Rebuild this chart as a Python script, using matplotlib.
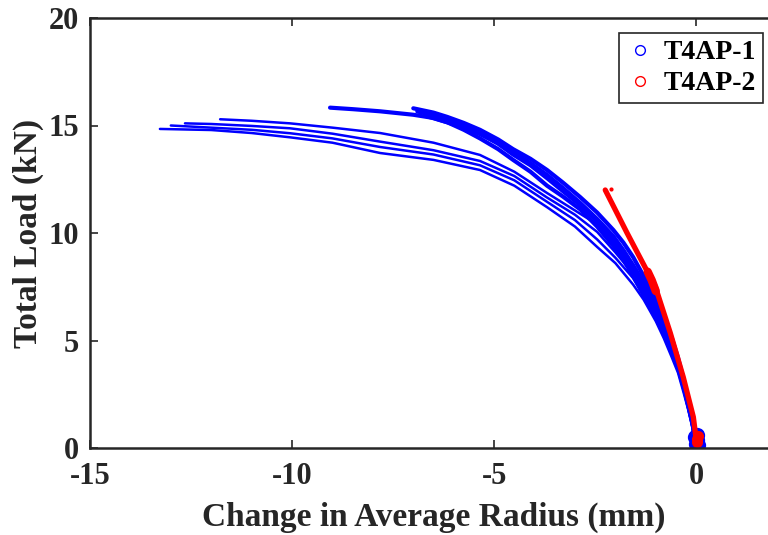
import matplotlib
matplotlib.use("Agg")
import matplotlib.pyplot as plt
from matplotlib.lines import Line2D

plt.rcParams['font.family'] = ['Liberation Serif', 'DejaVu Serif']
plt.rcParams['font.weight'] = 'bold'
plt.rcParams['axes.unicode_minus'] = False

# ---- data ----
# T4AP-1: several load/unload branches (upper group)
u1_x = [-9.06, -8.5, -7.82, -7.0, -6.5, -6.16, -5.75, -5.35, -4.9, -4.53, -4.1, -3.69, -3.3, -2.87, -2.45, -2.05, -1.8, -1.56, -1.3, -1.0, -0.8, -0.6, -0.45, -0.3, -0.2, -0.1, 0.0]
u1_y = [15.83, 15.76, 15.66, 15.5, 15.35, 15.15, 14.9, 14.6, 14.2, 13.75, 13.25, 12.7, 12.1, 11.4, 10.65, 9.85, 9.2, 8.5, 7.7, 6.6, 5.8, 4.9, 4.0, 3.0, 2.2, 1.3, 0.2]
u2_x = [-7.0, -6.5, -6.16, -5.75, -5.35, -4.9, -4.53, -4.1, -3.69, -3.3, -2.87, -2.45, -2.05, -1.8, -1.56, -1.3, -1.0, -0.8, -0.6, -0.45, -0.3, -0.2, -0.1, 0.0]
u2_y = [15.8, 15.6, 15.4, 15.12, 14.8, 14.35, 13.9, 13.45, 12.93, 12.35, 11.67, 10.95, 10.14, 9.55, 8.88, 8.0, 6.9, 6.0, 5.1, 4.2, 3.1, 2.3, 1.4, 0.3]
u3_x = [-6.9, -6.5, -6.16, -5.75, -5.35, -4.9, -4.53, -4.1, -3.69, -3.3, -2.87, -2.45, -2.05, -1.8, -1.56, -1.3, -1.0, -0.8, -0.6, -0.45, -0.3, -0.2, -0.1, 0.0]
u3_y = [15.65, 15.48, 15.3, 15.0, 14.62, 14.15, 13.65, 13.15, 12.55, 11.95, 11.3, 10.55, 9.7, 9.05, 8.3, 7.45, 6.35, 5.55, 4.75, 3.9, 2.9, 2.1, 1.25, 0.2]
u4_x = [-6.7, -6.16, -5.75, -5.35, -4.9, -4.53, -4.1, -3.69, -3.3, -2.87, -2.45, -2.05, -1.8, -1.56, -1.3, -1.0, -0.8, -0.6, -0.45, -0.3, -0.2, -0.1, 0.0]
u4_y = [15.45, 15.15, 14.8, 14.4, 13.9, 13.4, 12.85, 12.2, 11.7, 11.1, 10.3, 9.4, 8.75, 8.0, 7.1, 6.1, 5.3, 4.6, 3.75, 2.8, 2.0, 1.2, 0.2]
# lower group
l1_x = [-13.27, -12.0, -11.0, -10.05, -9.0, -7.82, -6.5, -5.35, -4.5, -3.69, -3.0, -2.45, -2.0, -1.56, -1.3, -1.0, -0.8, -0.6, -0.45, -0.3, -0.2, -0.1, 0.0]
l1_y = [14.84, 14.79, 14.65, 14.45, 14.2, 13.72, 13.4, 12.93, 12.2, 11.2, 10.3, 9.35, 8.6, 7.6, 6.9, 5.9, 5.1, 4.2, 3.5, 2.5, 1.8, 1.0, 0.1]
l2_x = [-13.0, -12.0, -11.0, -10.05, -9.0, -7.82, -6.5, -5.35, -4.5, -3.69, -3.0, -2.45, -2.0, -1.56, -1.3, -1.0, -0.8, -0.6, -0.45, -0.3, -0.2, -0.1, 0.0]
l2_y = [15.0, 14.9, 14.8, 14.64, 14.4, 14.0, 13.65, 13.15, 12.45, 11.45, 10.6, 9.7, 8.85, 7.9, 7.1, 6.1, 5.3, 4.35, 3.6, 2.6, 1.85, 1.05, 0.1]
l3_x = [-12.65, -12.0, -11.0, -10.05, -9.0, -7.82, -6.5, -5.35, -4.5, -3.69, -3.0, -2.45, -2.0, -1.56, -1.3, -1.0, -0.8, -0.6, -0.45, -0.3, -0.2, -0.1, 0.0]
l3_y = [15.1, 15.07, 14.98, 14.87, 14.62, 14.25, 13.85, 13.35, 12.65, 11.65, 10.85, 10.05, 9.1, 8.1, 7.3, 6.3, 5.45, 4.5, 3.7, 2.7, 1.9, 1.1, 0.1]
l4_x = [-11.78, -11.0, -10.05, -9.0, -7.82, -6.5, -5.35, -4.5, -3.69, -3.0, -2.45, -2.0, -1.56, -1.3, -1.0, -0.8, -0.6, -0.45, -0.3, -0.2, -0.1, 0.0]
l4_y = [15.29, 15.22, 15.1, 14.9, 14.65, 14.2, 13.63, 12.85, 11.86, 11.05, 10.4, 9.4, 8.4, 7.5, 6.5, 5.6, 4.65, 3.85, 2.8, 2.0, 1.15, 0.1]
blob1_x = [0.0, 0.03, -0.02, 0.05, 0.02]
blob1_y = [0.2, 0.35, 0.5, 0.15, 0.6]

# T4AP-2
red_x = [-2.25, -1.71, -1.19, -1.01, -0.64, -0.32, -0.07, -0.02, 0.0]
red_y = [12.0, 10.0, 8.14, 7.5, 5.35, 3.3, 1.44, 0.7, 0.3]
red_thick_x = [-1.2, -1.1, -1.0]
red_thick_y = [8.2, 7.8, 7.3]
red_pt_x = [-2.1]
red_pt_y = [12.05]
blob2_x = [0.02, 0.04, 0.03]
blob2_y = [0.4, 0.55, 0.3]

x_ticks = [-15, -10, -5, 0]
y_ticks = [0, 5, 10, 15, 20]

fig = plt.figure(figsize=(7.68, 5.35), dpi=100)
ax = fig.add_axes([90/768, 1-448/535, (777-90)/768, (448-18)/535])

upper = [(u1_x, u1_y), (u2_x, u2_y), (u3_x, u3_y), (u4_x, u4_y)]
lower = [(l1_x, l1_y), (l2_x, l2_y), (l3_x, l3_y), (l4_x, l4_y)]
for cx, cy in upper:
    ax.plot(cx, cy, color='blue', lw=3.0, solid_capstyle='round', solid_joinstyle='round')
for cx, cy in lower:
    ax.plot(cx, cy, color='blue', lw=1.8, solid_capstyle='round', solid_joinstyle='round')
ax.plot(blob1_x, blob1_y, 'o', color='blue', ms=11, mew=0)

ax.plot(red_x, red_y, color='red', lw=3.8, solid_capstyle='round', solid_joinstyle='round')
ax.plot(red_thick_x, red_thick_y, color='red', lw=6, solid_capstyle='round')
ax.plot(red_pt_x, red_pt_y, 'o', color='red', ms=3, mew=0)
ax.plot(blob2_x, blob2_y, 'o', color='red', ms=8, mew=0)

ax.set_xlim(-15, 2)
ax.set_ylim(0, 20)
ax.set_xticks(x_ticks)
ax.set_yticks(y_ticks)
ax.tick_params(direction='in', length=6, width=1.2, top=True, right=True,
               labelsize=22, color='#262626', labelcolor='#262626')
ax.tick_params(axis='x', pad=10)
ax.tick_params(axis='y', pad=8)
for sp in ax.spines.values():
    sp.set_linewidth(1.8)
    sp.set_color('#262626')

ax.set_xlabel('Change in Average Radius (mm)', fontsize=24, fontweight='bold', color='#262626', labelpad=8)
ax.set_ylabel('Total Load (kN)', fontsize=24, fontweight='bold', color='#262626', labelpad=3)

handles = [Line2D([], [], ls='none', marker='o', mfc='none', mec='blue', ms=7, mew=1),
           Line2D([], [], ls='none', marker='o', mfc='none', mec='red', ms=7, mew=1)]
leg = ax.legend(handles, ['T4AP-1', 'T4AP-2'], loc='upper right',
                bbox_to_anchor=(763/768, 1-33/535), bbox_transform=fig.transFigure,
                prop={'weight': 'bold', 'size': 20}, fancybox=False, framealpha=1,
                edgecolor='#262626', handlelength=1.0, handletextpad=0.35,
                borderpad=0.25, labelspacing=0.2, borderaxespad=0)
leg.get_frame().set_linewidth(1.2)

fig.savefig('out.png', dpi=100)
